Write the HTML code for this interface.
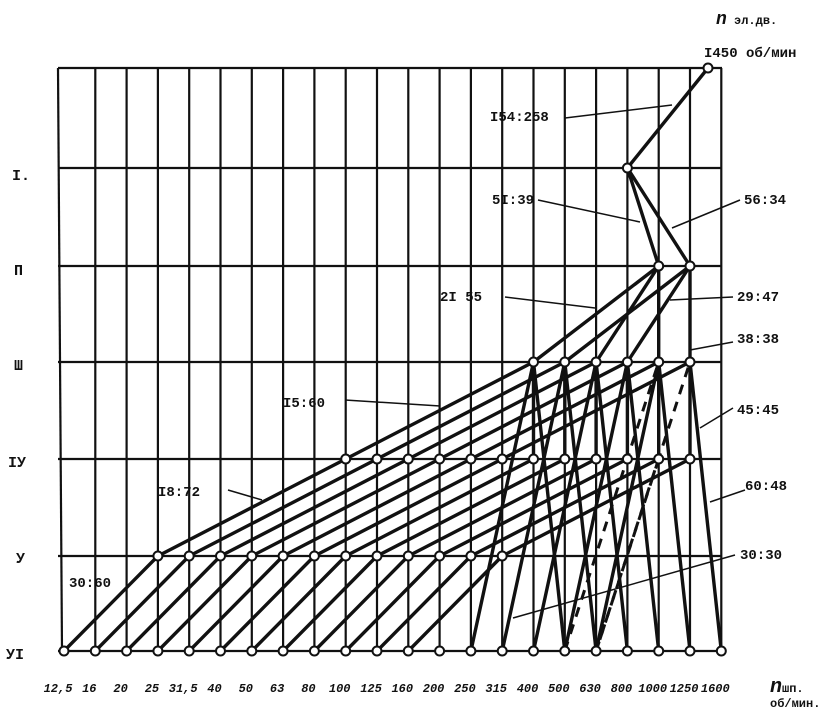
<!DOCTYPE html>
<html><head><meta charset="utf-8"><style>
body{margin:0;background:#fff}
svg text{font-family:"Liberation Mono","DejaVu Sans Mono",monospace;fill:#111;font-weight:bold}
</style></head><body>
<svg id="s" width="840" height="715" viewBox="0 0 840 715" xmlns="http://www.w3.org/2000/svg">
<g id="grid" stroke="#111" stroke-width="2.2" fill="none"></g>
<g id="rays" stroke="#111" stroke-width="3.4" fill="none" stroke-linecap="round"></g>
<g id="dash" stroke="#111" stroke-width="3" fill="none" stroke-dasharray="10,8"></g>
<g id="lead" stroke="#111" stroke-width="1.5" fill="none"></g>
<g id="pts" stroke="#111" stroke-width="2" fill="#fff"></g>
<g font-size="15">
<text x="12" y="180" font-family="Liberation Serif">I.</text>
<text x="14" y="275" font-family="Liberation Serif">П</text>
<text x="14" y="370" font-family="Liberation Serif">Ш</text>
<text x="8" y="467" font-family="Liberation Serif">IУ</text>
<text x="16" y="563" font-family="Liberation Serif">У</text>
<text x="6" y="659" font-family="Liberation Serif">УI</text>
</g>
<g font-size="14">
<text x="490" y="121">I54:258</text>
<text x="492" y="204">5I:39</text>
<text x="744" y="204">56:34</text>
<text x="440" y="301">2I 55</text>
<text x="737" y="301">29:47</text>
<text x="737" y="343">38:38</text>
<text x="283" y="407">I5:60</text>
<text x="737" y="414">45:45</text>
<text x="158" y="496">I8:72</text>
<text x="745" y="490">60:48</text>
<text x="69" y="587">30:60</text>
<text x="740" y="559">30:30</text>
<text x="704" y="57">I450 об/мин</text>
<text x="716" y="24" font-size="12"><tspan font-size="18" font-style="italic">n</tspan> эл.дв.</text>
<text x="770" y="692" font-size="12"><tspan font-size="20" font-style="italic">n</tspan>шп.</text>
<text x="770" y="707" font-size="12" font-weight="normal">об/мин.</text>
</g>
<g id="ticks" font-size="12" font-style="italic" font-family="Liberation Sans" text-anchor="middle"></g>
</svg>
<script>
const NS="http://www.w3.org/2000/svg";
const X=i=>64+i*31.3, Y=[68,168,266,362,459,556,651];
function el(g,t,a){const e=document.createElementNS(NS,t);for(const k in a)e.setAttribute(k,a[k]);document.getElementById(g).appendChild(e);return e;}
function L(g,x1,y1,x2,y2){el(g,'line',{x1,y1,x2,y2});}
L('grid',58,68,62,651);
for(let i=1;i<22;i++)L('grid',X(i),68,X(i),651);
for(const y of Y)L('grid',58,y,722,y);
const R=(g,i1,r1,i2,r2)=>L(g,X(i1),Y[r1],X(i2),Y[r2]);
L('rays',708,68,X(18),Y[1]);
R('rays',18,1,19,2);R('rays',18,1,20,2);
for(const a of [19,20]){R('rays',a,2,a-4,3);R('rays',a,2,a-2,3);R('rays',a,2,a,3);}
for(let i=15;i<=20;i++){R('rays',i,3,i-6,4);R('rays',i,3,i,4);R('rays',i,3,i+1,6);if(i<20)R('rays',i,3,i-2,6);}
for(let i=9;i<=20;i++){R('rays',i,4,i-6,5);}
for(let i=3;i<=14;i++){R('rays',i,5,i-3,6);}
R('dash',16,6,19,3);R('dash',17,6,20,3);R('dash',19,4,17,6);
[[565,118,672,105],[538,200,640,222],[740,200,672,228],[505,297,595,308],[733,297,670,300],[733,342,690,350],[345,400,440,406],[733,408,700,428],[228,490,262,500],[745,490,710,502],[735,555,513,618]].forEach(a=>L('lead',...a));
el('pts','circle',{cx:708,cy:68,r:4.5});
const P=(i,r)=>el('pts','circle',{cx:X(i),cy:Y[r],r:4.5});
P(18,1);P(19,2);P(20,2);
for(let i=15;i<=20;i++)P(i,3);
for(let i=9;i<=20;i++)P(i,4);
for(let i=3;i<=14;i++)P(i,5);
for(let i=0;i<=21;i++)P(i,6);
const T=["12,5","16","20","25","31,5","40","50","63","80","100","125","160","200","250","315","400","500","630","800","1000","1250","1600"];
T.forEach((t,i)=>{const e=el('ticks','text',{x:X(i)-6,y:692});e.textContent=t;});
</script>
</body></html>
